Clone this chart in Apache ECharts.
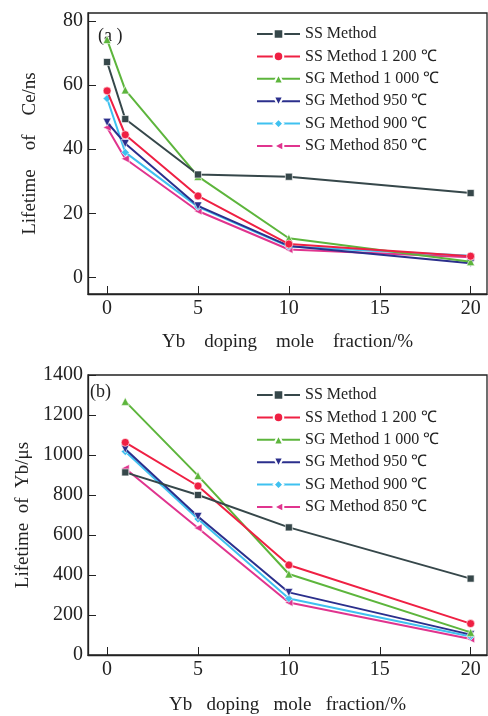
<!DOCTYPE html>
<html><head><meta charset="utf-8">
<script src="https://cdn.jsdelivr.net/npm/echarts@6/dist/echarts.min.js"></script>
<style>html,body{margin:0;padding:0;background:#fff}#c{width:488px;height:716px}</style>
</head><body><div id="c"></div>
<script>
const seriesNames = ['SS Method','SS Method 1 200 ℃','SG Method 1 000 ℃','SG Method 950 ℃','SG Method 900 ℃','SG Method 850 ℃'];
const xTop = [0, 1, 5, 10, 20];
const xBottom = [1, 5, 10, 20];
const ceSS      = [67.2, 49.4, 32.1, 31.4, 26.3];
const ceSS1200  = [58.2, 44.5, 25.4, 10.4, 6.6];
const ceSG1000  = [74.2, 58.5, 31.5, 12.2, 4.9];
const ceSG950   = [48.4, 41.8, 22.3, 9.8, 4.4];
const ceSG900   = [55.8, 39.0, 22.0, 9.6, 6.7];
const ceSG850   = [46.8, 37.0, 20.7, 8.7, 6.3];
const ybSS      = [913, 800, 638, 382];
const ybSS1200  = [1063, 845, 450, 157];
const ybSG1000  = [1268, 897, 405, 113];
const ybSG950   = [1030, 693, 313, 102];
const ybSG900   = [1017, 680, 283, 93];
const ybSG850   = [933, 635, 263, 80];
const xTicks = [0, 5, 10, 15, 20];
const yTicksTop = [0, 20, 40, 60, 80];
const yTicksBottom = [0, 200, 400, 600, 800, 1000, 1200, 1400];

const colors = ['#36474a', '#ef2043', '#5db53c', '#2b2f8c', '#3fc1f0', '#e0348e'];
const symbols = ['rect', 'circle', 'triangle', 'triangle', 'diamond', 'triangle'];
const rotates = [0, 0, 0, 180, 0, 90];
const sizes = [7, 8, 8, 8, 8, 8];
const FONT = 'Liberation Serif';

const topData = [ceSS, ceSS1200, ceSG1000, ceSG950, ceSG900, ceSG850];
const botData = [ybSS, ybSS1200, ybSG1000, ybSG950, ybSG900, ybSG850];

function mkSeries(dataArr, xs, idx) {
  return dataArr.map((d, i) => ({
    name: seriesNames[i] + (idx ? ' ' : ''),
    type: 'line',
    xAxisIndex: idx, yAxisIndex: idx,
    data: xs.map((x, j) => [x, d[j]]),
    symbol: symbols[i], symbolRotate: rotates[i], symbolSize: sizes[i],
    showAllSymbol: true,
    lineStyle: { color: colors[i], width: 2 },
    itemStyle: { color: colors[i], borderColor: '#fff', borderWidth: 0.6 },
    emphasis: { disabled: true },
    animation: false,
    z: 10 - i
  }));
}

const plain = v => String(v);

function xAxisCfg(gi, name, gap) {
  return {
    type: 'value', gridIndex: gi, min: -1.05, max: 20.9,
    name: name, nameLocation: 'middle', nameGap: gap,
    nameTextStyle: { fontFamily: FONT, fontSize: 19, color: '#222' },
    axisLine: { show: true, onZero: false, lineStyle: { color: '#222', width: 1.3 } },
    axisTick: { show: true, inside: true, length: 8, customValues: xTicks, lineStyle: { color: '#222', width: 1 } },
    axisLabel: { customValues: xTicks, formatter: plain, fontFamily: FONT, fontSize: 20, color: '#222', margin: 5 },
    splitLine: { show: false }
  };
}
function yAxisCfg(gi, min, max, ticks, name, gap) {
  return {
    type: 'value', gridIndex: gi, min: min, max: max,
    name: name, nameLocation: 'middle', nameGap: gap, nameRotate: 90,
    nameTextStyle: { fontFamily: FONT, fontSize: 19, color: '#222' },
    axisLine: { show: true, onZero: false, lineStyle: { color: '#222', width: 1.3 } },
    axisTick: { show: true, inside: true, length: 8, customValues: ticks, lineStyle: { color: '#222', width: 1 } },
    axisLabel: { customValues: ticks, formatter: plain, fontFamily: FONT, fontSize: 20, color: '#222', margin: 5 },
    splitLine: { show: false }
  };
}

function legendCfg(top, names) {
  return {
    orient: 'vertical', left: 256, top: top, padding: 0,
    itemWidth: 43, itemHeight: 12, itemGap: 6.4,
    data: names,
    textStyle: { fontFamily: FONT, fontSize: 16, color: '#222', lineHeight: 16 },
    selectedMode: false
  };
}

const chart = echarts.init(document.getElementById('c'));
chart.setOption({
  animation: false,
  backgroundColor: '#fff',
  grid: [
    { left: 88, top: 13, width: 399, height: 281, show: true, borderColor: '#222', borderWidth: 1.3, backgroundColor: 'transparent' },
    { left: 88, top: 375, width: 399, height: 281, show: true, borderColor: '#222', borderWidth: 1.3, backgroundColor: 'transparent' }
  ],
  xAxis: [
    xAxisCfg(0, 'Yb    doping    mole    fraction/%', 39),
    xAxisCfg(1, 'Yb   doping   mole   fraction/%', 41)
  ],
  yAxis: [
    yAxisCfg(0, -5.2, 82.5, yTicksTop, 'Lifetime    of    Ce/ns', 48),
    yAxisCfg(1, 0, 1400, yTicksBottom, 'Lifetime  of  Yb/μs', 54)
  ],
  legend: [
    legendCfg(26, seriesNames),
    legendCfg(387, seriesNames.map(n => n + ' '))
  ],
  graphic: [
    { type: 'text', left: 98, top: 27, style: { text: '(a )', font: '18px ' + FONT, fill: '#222' } },
    { type: 'text', left: 90, top: 383, style: { text: '(b)', font: '18px ' + FONT, fill: '#222' } }
  ],
  series: mkSeries(topData, xTop, 0).concat(mkSeries(botData, xBottom, 1))
});
</script>
</body></html>
